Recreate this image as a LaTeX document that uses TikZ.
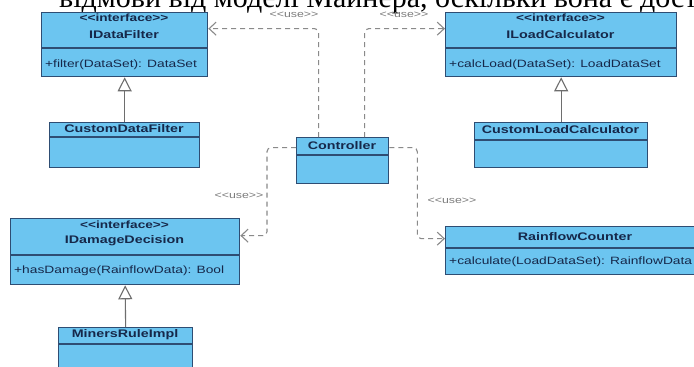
\documentclass[tikz,border=0pt]{standalone}
\usepackage{fontspec}
\setmainfont{Liberation Serif}
\newfontfamily\umlfont[FakeStretch=1.3]{Liberation Sans}
\usetikzlibrary{arrows.meta}

\definecolor{classfill}{HTML}{6CC5F0}
\definecolor{classline}{HTML}{2E4D73}
\definecolor{classtext}{HTML}{16284A}
\definecolor{depgray}{HTML}{8A8A8A}
\definecolor{gengray}{HTML}{6E6E6E}

\tikzset{
  classbox/.style={draw=classline, line width=1.3pt, fill=classfill,
    inner sep=0pt, anchor=north west},
  sepline/.style={draw=classline, line width=1.1pt},
  stereo/.style={font=\umlfont\bfseries\fontsize{10.5}{12}\selectfont, text=classtext, inner sep=0pt},
  cname/.style={font=\umlfont\bfseries\fontsize{11}{12}\selectfont, text=classtext, inner sep=0pt},
  oper/.style={font=\umlfont\fontsize{10.6}{12}\selectfont, text=classtext, inner sep=0pt, anchor=west},
  uselabel/.style={font=\umlfont\fontsize{9.5}{11}\selectfont, text=depgray!90!black, inner sep=0pt},
  dep/.style={draw=depgray, line width=1.1pt, dash pattern=on 5pt off 4pt,
    rounded corners=4pt, -{Straight Barb[length=7pt, width=13pt, line width=1.1pt]}},
  gen/.style={draw=gengray, line width=1.1pt,
    -{Triangle[open, length=14pt, width=14pt, fill=white, line width=1.1pt]}},
}

% class box: name, x1, y1, x2, y2, separator y
\newcommand\umlclassbox[6]{%
  \node[classbox, minimum width=#4pt-#2pt, minimum height=#5pt-#3pt] (#1) at (#2,#3) {};
  \draw[sepline] (#2,#6) -- (#4,#6);
}

\begin{document}
\begin{tikzpicture}[x=1pt, y=-1pt]
\useasboundingbox (0,0) rectangle (694,367);
\clip (0,0) rectangle (694,367);
\fill[white] (0,0) rectangle (694,367);

% line of running text above the diagram
\node[anchor=base west, inner sep=0pt, font=\fontsize{30}{32}\selectfont] (runtext) at (59,7.5)
  {відмови від моделі Майнера, оскільки вона є дост};

% interfaces
\umlclassbox{idf}{41}{12}{207}{76}{48}
\node[stereo] (idf-st) at (124,18) {<<interface>>};
\node[cname] (idf-nm) at (124,35) {IDataFilter};
\node[oper] (idf-op) at (45,65) {+filter(DataSet): DataSet};

\umlclassbox{ilc}{445}{12}{676}{76}{48}
\node[stereo] (ilc-st) at (560.5,18) {<<interface>>};
\node[cname] (ilc-nm) at (560.5,35) {ILoadCalculator};
\node[oper] (ilc-op) at (449,65) {+calcLoad(DataSet): LoadDataSet};

\umlclassbox{idd}{10}{218}{239}{284}{255}
\node[stereo] (idd-st) at (124.5,225) {<<interface>>};
\node[cname] (idd-nm) at (124.5,241) {IDamageDecision};
\node[oper] (idd-op) at (14,271) {+hasDamage(RainflowData): Bool};

% classes
\umlclassbox{cdf}{49}{122}{199}{167}{137}
\node[cname] (cdf-nm) at (124,129) {CustomDataFilter};

\umlclassbox{clc}{474}{122}{647}{167}{140}
\node[cname] (clc-nm) at (560.5,130) {CustomLoadCalculator};

\umlclassbox{ctrl}{296}{137}{388}{183}{155}
\node[cname] (ctrl-nm) at (342,146) {Controller};

\umlclassbox{mri}{58}{327}{192}{390}{344}
\node[cname] (mri-nm) at (125,335) {MinersRuleImpl};

\umlclassbox{rfc}{445}{226}{705}{274}{248}
\node[cname] (rfc-nm) at (575,237) {RainflowCounter};
\node[oper] (rfc-op) at (449,262) {+calculate(LoadDataSet): RainflowData};

% realisations
\draw[gen] (cdf.north) -- (idf.south);
\draw[gen] (clc.north) -- (ilc.south);
\draw[gen] (mri.north) -- (idd.south);

% usage dependencies
\draw[dep] ([xshift=-24pt]ctrl.north) |- ([yshift=16pt]idf.east);
\draw[dep] ([xshift=22pt]ctrl.north) |- ([yshift=16pt]ilc.west);
\draw[dep] ([yshift=13pt]ctrl.west) -- ++(-29,0) |- ([yshift=16pt]idd.east);
\draw[dep] ([yshift=13pt]ctrl.east) -- ++(28,0) |- ([yshift=12pt]rfc.west);

\node[uselabel] (use1) at (294,15) {<<use>>};
\node[uselabel] (use2) at (404,15) {<<use>>};
\node[uselabel] (use3) at (239,196) {<<use>>};
\node[uselabel] (use4) at (452,201) {<<use>>};
\end{tikzpicture}
\end{document}
